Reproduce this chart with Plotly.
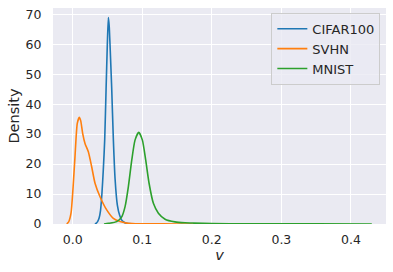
import plotly.graph_objects as go

# Values
cifar_x = [0.032, 0.034, 0.036, 0.038, 0.040, 0.042, 0.044, 0.046, 0.048, 0.0498, 0.0513,
           0.0525, 0.0537, 0.0561, 0.0584, 0.0609, 0.0642, 0.0675, 0.0705, 0.0745, 0.0777, 0.085, 0.09]
cifar_y = [0.0, 0.3, 0.9, 2.0, 4.5, 10.0, 18.0, 28.0, 45.0, 60.0, 68.9,
           66.0, 59.7, 45.2, 28.6, 15.2, 6.3, 2.9, 1.3, 0.5, 0.2, 0.05, 0.0]

svhn_x = [-0.0086, -0.006, -0.0024, 0.0005, 0.0033, 0.0066, 0.0095, 0.0115, 0.0144, 0.0177,
          0.0225, 0.0273, 0.0321, 0.0393, 0.0489, 0.0584, 0.068, 0.0777, 0.09, 0.11, 0.15, 0.2]
svhn_y = [0.0, 0.6, 3.6, 12.0, 22.4, 33.6, 35.6, 34.5, 30.2, 26.9,
          24.1, 19.1, 13.6, 9.1, 4.7, 1.9, 0.8, 0.3, 0.1, 0.05, 0.02, 0.0]

mnist_x = [0.045, 0.0513, 0.0633, 0.0705, 0.0753, 0.080, 0.0849, 0.0896, 0.095, 0.1002,
           0.105, 0.1098, 0.116, 0.1232, 0.1328, 0.147, 0.1616, 0.174, 0.2, 0.25, 0.3, 0.35, 0.43]
mnist_y = [0.0, 0.2, 0.8, 2.4, 5.8, 12.4, 21.3, 28.0, 30.6, 28.0,
           21.3, 13.6, 6.9, 3.6, 1.6, 0.7, 0.4, 0.3, 0.15, 0.08, 0.05, 0.03, 0.02]

x_ticks = [0.0, 0.1, 0.2, 0.3, 0.4]
y_ticks = [0, 10, 20, 30, 40, 50, 60, 70]

fig = go.Figure()
for name, xs, ys, col in [("CIFAR100", cifar_x, cifar_y, "#1f77b4"),
                          ("SVHN", svhn_x, svhn_y, "#ff7f0e"),
                          ("MNIST", mnist_x, mnist_y, "#2ca02c")]:
    fig.add_trace(go.Scatter(x=xs, y=ys, mode="lines", name=name,
                             line=dict(color=col, width=1.6, shape="spline", smoothing=0.6)))

font = "DejaVu Sans, sans-serif"
fig.update_layout(
    width=393, height=272,
    margin=dict(l=53, r=7, t=8, b=48),
    paper_bgcolor="white", plot_bgcolor="#EAEAF2",
    font=dict(family=font, size=12.5, color="#262626"),
    showlegend=True,
    legend=dict(x=0.983, y=0.978, xanchor="right", yanchor="top",
                bgcolor="rgba(234,234,242,0.8)", bordercolor="#cccccc", borderwidth=1,
                font=dict(size=13, color="#262626"), tracegroupgap=0, itemwidth=30),
)
fig.update_xaxes(range=[-0.0283, 0.4504], tickvals=x_ticks, ticktext=[f"{v:.1f}" for v in x_ticks],
                 showgrid=True, gridcolor="white", gridwidth=1, zeroline=False, automargin=False,
                 ticks="outside", ticklen=4, tickcolor="rgba(0,0,0,0)",
                 title=dict(text="<i>v</i>", font=dict(size=14.5), standoff=3))
fig.update_yaxes(range=[0, 72.1], tickvals=y_ticks,
                 showgrid=True, gridcolor="white", gridwidth=1, zeroline=False, automargin=False,
                 ticks="outside", ticklen=8, tickcolor="rgba(0,0,0,0)",
                 title=dict(text="Density", font=dict(size=14.5), standoff=2))

fig.write_html("out.html", config={"displayModeBar": False},
               post_script="document.body.style.margin='0px';document.body.style.overflow='hidden';")
